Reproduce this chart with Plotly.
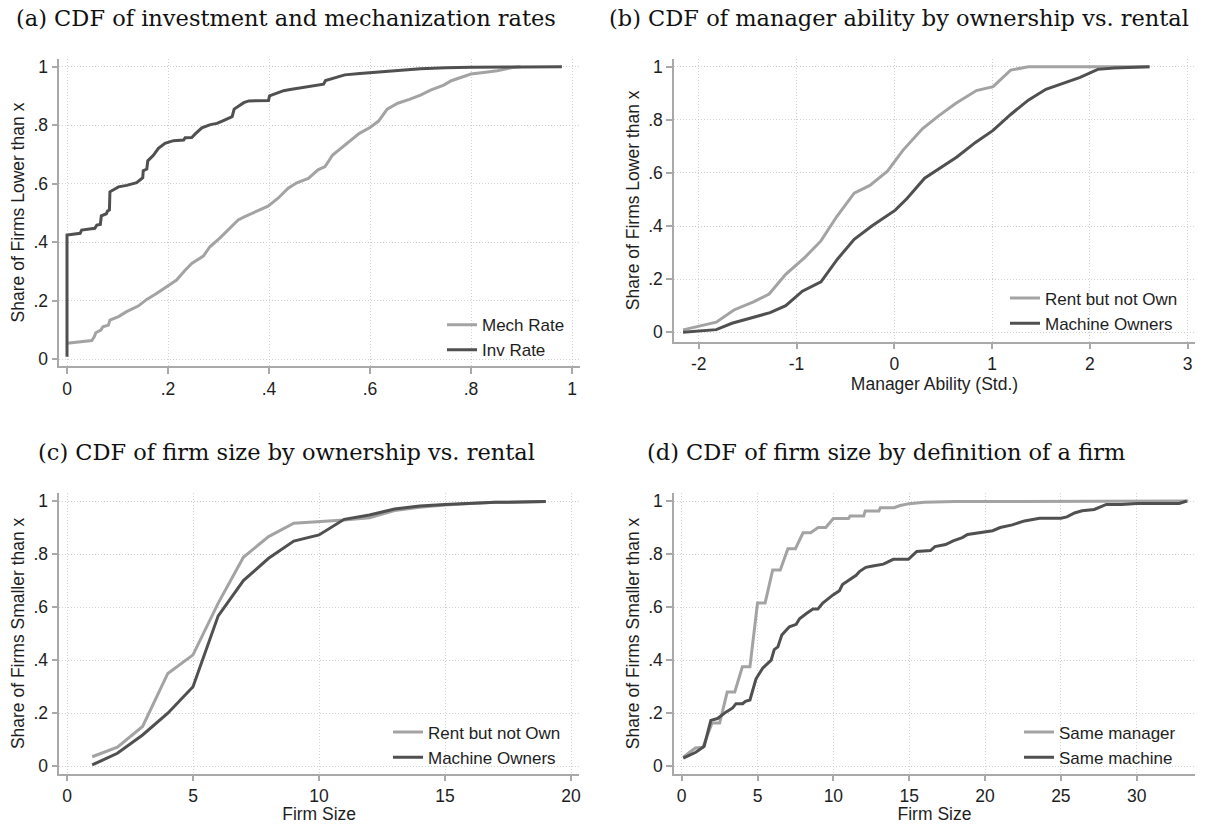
import plotly.graph_objects as go

W, H = 1210, 824

# ---------------- data ----------------
# (a) CDF of investment and mechanization rates
inv_rate_x = [0.0, 0.0, 0.026, 0.029, 0.055, 0.059, 0.066, 0.068, 0.078, 0.080, 0.084, 0.085,
              0.102, 0.118, 0.138, 0.146, 0.150, 0.151, 0.158, 0.160, 0.171, 0.181, 0.194,
              0.211, 0.231, 0.234, 0.247, 0.254, 0.267, 0.284, 0.297, 0.313, 0.327, 0.331,
              0.340, 0.350, 0.360, 0.399, 0.401, 0.416, 0.429, 0.442, 0.462, 0.482, 0.508,
              0.512, 0.530, 0.550, 0.580, 0.600, 0.650, 0.700, 0.750, 0.800, 0.900, 0.980]
inv_rate_y = [0.008, 0.424, 0.430, 0.441, 0.447, 0.458, 0.460, 0.490, 0.497, 0.506, 0.510, 0.572,
              0.589, 0.594, 0.603, 0.615, 0.620, 0.644, 0.650, 0.678, 0.697, 0.721, 0.738,
              0.747, 0.749, 0.757, 0.758, 0.770, 0.791, 0.802, 0.806, 0.818, 0.829, 0.855,
              0.866, 0.877, 0.883, 0.884, 0.900, 0.911, 0.918, 0.922, 0.928, 0.934, 0.940,
              0.953, 0.963, 0.972, 0.977, 0.980, 0.988, 0.993, 0.996, 0.998, 0.999, 1.000]
mech_rate_x = [0.0, 0.049, 0.054, 0.057, 0.067, 0.071, 0.082, 0.085, 0.102, 0.118, 0.141, 0.158,
               0.178, 0.200, 0.217, 0.233, 0.247, 0.270, 0.283, 0.302, 0.322, 0.339, 0.352,
               0.375, 0.398, 0.418, 0.438, 0.455, 0.478, 0.497, 0.511, 0.526, 0.549, 0.564,
               0.579, 0.600, 0.617, 0.634, 0.655, 0.678, 0.700, 0.720, 0.746, 0.761, 0.780,
               0.800, 0.829, 0.852, 0.882, 0.898]
mech_rate_y = [0.054, 0.063, 0.076, 0.090, 0.099, 0.110, 0.116, 0.133, 0.145, 0.162, 0.181, 0.204,
               0.225, 0.250, 0.270, 0.302, 0.327, 0.352, 0.384, 0.413, 0.447, 0.476, 0.487,
               0.504, 0.523, 0.550, 0.584, 0.603, 0.618, 0.647, 0.658, 0.698, 0.729, 0.749,
               0.772, 0.792, 0.814, 0.855, 0.875, 0.888, 0.903, 0.920, 0.937, 0.952, 0.962,
               0.975, 0.981, 0.986, 0.997, 1.000]

# (b) CDF of manager ability by ownership vs. rental
ability_rent_x = [-2.16, -1.82, -1.64, -1.44, -1.28, -1.11, -0.92, -0.75, -0.59, -0.41, -0.25,
                  -0.07, 0.09, 0.29, 0.45, 0.63, 0.84, 1.01, 1.19, 1.37, 2.0, 2.61]
ability_rent_y = [0.009, 0.038, 0.084, 0.115, 0.144, 0.218, 0.280, 0.344, 0.435, 0.524, 0.553,
                  0.607, 0.686, 0.767, 0.814, 0.862, 0.910, 0.925, 0.987, 1.000, 1.000, 1.000]
ability_own_x = [-2.16, -1.82, -1.66, -1.44, -1.27, -1.11, -0.94, -0.75, -0.58, -0.41, -0.23,
                 0.01, 0.13, 0.31, 0.47, 0.64, 0.83, 1.01, 1.19, 1.37, 1.55, 1.73, 1.90, 2.08,
                 2.25, 2.61]
ability_own_y = [0.000, 0.010, 0.034, 0.055, 0.074, 0.100, 0.155, 0.190, 0.276, 0.350, 0.400,
                 0.460, 0.504, 0.580, 0.620, 0.660, 0.715, 0.760, 0.820, 0.874, 0.915, 0.937,
                 0.960, 0.990, 0.995, 1.000]

# (c) CDF of firm size by ownership vs. rental
firm_size = list(range(1, 20))
size_rent_y = [0.036, 0.072, 0.150, 0.350, 0.420, 0.615, 0.788, 0.866, 0.916, 0.922, 0.928,
               0.937, 0.964, 0.976, 0.985, 0.991, 0.995, 0.996, 0.998]
size_own_y = [0.005, 0.049, 0.118, 0.200, 0.300, 0.567, 0.700, 0.784, 0.849, 0.872, 0.931,
              0.947, 0.970, 0.981, 0.987, 0.992, 0.995, 0.996, 0.998]

# (d) CDF of firm size by definition of a firm
same_manager_x = [0.1, 0.9, 1.4, 2.0, 2.5, 3.0, 3.5, 4.0, 4.5, 5.0, 5.5, 6.0, 6.5, 7.0, 7.5,
                  8.0, 8.5, 9.0, 9.5, 10.0, 11.0, 11.1, 12.0, 12.1, 13.0, 13.1, 14.0, 14.4,
                  15.0, 16.0, 18.0, 25.0, 33.4]
same_manager_y = [0.034, 0.069, 0.072, 0.163, 0.163, 0.280, 0.280, 0.375, 0.375, 0.616, 0.616,
                  0.740, 0.740, 0.820, 0.820, 0.880, 0.880, 0.900, 0.900, 0.934, 0.934, 0.943,
                  0.943, 0.962, 0.962, 0.975, 0.975, 0.983, 0.990, 0.995, 0.998, 1.000, 1.000]
same_machine_x = [0.1, 0.93, 1.48, 1.92, 2.36, 2.91, 3.36, 3.58, 4.02, 4.2, 4.5, 4.9, 5.34, 5.9,
                  6.1, 6.34, 6.6, 7.1, 7.55, 7.77, 8.2, 8.65, 8.98, 9.3, 9.98, 10.4, 10.6, 10.97,
                  11.5, 11.74, 12.14, 12.6, 13.3, 13.95, 14.95, 15.5, 16.4, 16.7, 17.4, 17.9,
                  18.5, 18.85, 19.5, 20.5, 21.0, 21.8, 22.6, 23.6, 25.0, 25.4, 25.9, 26.4, 27.2,
                  28.0, 29.0, 30.0, 32.8, 33.3]
same_machine_y = [0.031, 0.053, 0.075, 0.173, 0.180, 0.204, 0.220, 0.236, 0.236, 0.245, 0.250,
                  0.330, 0.370, 0.400, 0.440, 0.450, 0.495, 0.526, 0.535, 0.556, 0.575, 0.593,
                  0.593, 0.615, 0.646, 0.662, 0.685, 0.700, 0.720, 0.735, 0.750, 0.755, 0.762,
                  0.780, 0.780, 0.810, 0.813, 0.828, 0.836, 0.850, 0.862, 0.874, 0.880, 0.888,
                  0.900, 0.910, 0.925, 0.935, 0.935, 0.940, 0.955, 0.963, 0.968, 0.987, 0.987,
                  0.991, 0.991, 1.000]

# tick labels
share_ticks = [0, 0.2, 0.4, 0.6, 0.8, 1]
share_labels = ["0", ".2", ".4", ".6", ".8", "1"]
ability_ticks = [-2, -1, 0, 1, 2, 3]
ability_labels = ["-2", "-1", "0", "1", "2", "3"]
size_c_ticks = [0, 5, 10, 15, 20]
size_c_labels = ["0", "5", "10", "15", "20"]
size_d_ticks = [0, 5, 10, 15, 20, 25, 30]
size_d_labels = ["0", "5", "10", "15", "20", "25", "30"]

panel_titles = ["(a) CDF of investment and mechanization rates",
                "(b) CDF of manager ability by ownership vs. rental",
                "(c) CDF of firm size by ownership vs. rental",
                "(d) CDF of firm size by definition of a firm"]

# ---------------- style ----------------
DARK = "#505050"
LIGHT = "#a3a3a3"
AXIS = "#a9a9a9"
GRID = "#d0d0d0"
TXT = "#1e1e1e"
SANS = "Liberation Sans, Arial, sans-serif"
SERIF = "DejaVu Serif, serif"
FS = 17.5


def rng(p0, p1, va, pa, vb, pb):
    s = (vb - va) / (pb - pa)
    return [va + (p0 - pa) * s, va + (p1 - pa) * s]


# pixel geometry of each panel: x-left, x-right, y-top, y-bottom, calibration
panels = {
    "a": dict(x=(59.3, 580), y=(59, 366), xc=(0, 67, 1, 572), yc=(1, 66.7, 0, 359)),
    "b": dict(x=(674, 1195), y=(59, 341.7), xc=(-2, 698.7, 3, 1187.7), yc=(1, 66.7, 0, 332.3)),
    "c": dict(x=(59.3, 579), y=(493.3, 773.5), xc=(0, 67, 20, 571), yc=(1, 501, 0, 766.3)),
    "d": dict(x=(674, 1195), y=(493.3, 773.5), xc=(0, 681.7, 30, 1136.7), yc=(1, 501, 0, 766.3)),
}

fig = go.Figure()

line_w = 3
fig.add_trace(go.Scatter(x=mech_rate_x, y=mech_rate_y, mode="lines", name="Mech Rate",
                         line=dict(color=LIGHT, width=line_w), xaxis="x", yaxis="y", legend="legend"))
fig.add_trace(go.Scatter(x=inv_rate_x, y=inv_rate_y, mode="lines", name="Inv Rate",
                         line=dict(color=DARK, width=line_w), xaxis="x", yaxis="y", legend="legend"))
fig.add_trace(go.Scatter(x=ability_rent_x, y=ability_rent_y, mode="lines", name="Rent but not Own",
                         line=dict(color=LIGHT, width=line_w), xaxis="x2", yaxis="y2", legend="legend2"))
fig.add_trace(go.Scatter(x=ability_own_x, y=ability_own_y, mode="lines", name="Machine Owners",
                         line=dict(color=DARK, width=line_w), xaxis="x2", yaxis="y2", legend="legend2"))
fig.add_trace(go.Scatter(x=firm_size, y=size_rent_y, mode="lines", name="Rent but not Own",
                         line=dict(color=LIGHT, width=line_w), xaxis="x3", yaxis="y3", legend="legend3"))
fig.add_trace(go.Scatter(x=firm_size, y=size_own_y, mode="lines", name="Machine Owners",
                         line=dict(color=DARK, width=line_w), xaxis="x3", yaxis="y3", legend="legend3"))
fig.add_trace(go.Scatter(x=same_manager_x, y=same_manager_y, mode="lines", name="Same manager",
                         line=dict(color=LIGHT, width=line_w), xaxis="x4", yaxis="y4", legend="legend4"))
fig.add_trace(go.Scatter(x=same_machine_x, y=same_machine_y, mode="lines", name="Same machine",
                         line=dict(color=DARK, width=line_w), xaxis="x4", yaxis="y4", legend="legend4"))


def axis_common():
    return dict(showline=True, linecolor=AXIS, linewidth=1.5, ticks="outside", ticklen=6,
                tickwidth=1.5, tickcolor=AXIS, showgrid=True, gridcolor=GRID, griddash="1px,2px",
                gridwidth=1, zeroline=False, tickfont=dict(family=SANS, size=FS, color=TXT),
                fixedrange=True, automargin=False)


xticks = {"a": (share_ticks, share_labels), "b": (ability_ticks, ability_labels),
          "c": (size_c_ticks, size_c_labels), "d": (size_d_ticks, size_d_labels)}
xtitles = {"a": "", "b": "Manager Ability (Std.)", "c": "Firm Size", "d": "Firm Size"}
ytitles = {"a": "Share of Firms Lower than x", "b": "Share of Firms Lower than x",
           "c": "Share of Firms Smaller than x", "d": "Share of Firms Smaller than x"}

layout = dict(width=W, height=H, margin=dict(l=0, r=0, t=0, b=0, autoexpand=False),
              paper_bgcolor="white", plot_bgcolor="white", showlegend=True,
              font=dict(family=SANS, size=FS, color=TXT))

legend_pos = {"a": (442, 337.7), "b": (1005, 311), "c": (388, 745), "d": (1019, 745)}

for i, key in enumerate(["a", "b", "c", "d"]):
    p = panels[key]
    sfx = "" if i == 0 else str(i + 1)
    xa = axis_common()
    xa.update(domain=[p["x"][0] / W, p["x"][1] / W],
              range=rng(p["x"][0], p["x"][1], *p["xc"]),
              tickvals=xticks[key][0], ticktext=xticks[key][1],
              anchor="y" + sfx)
    if xtitles[key]:
        xa["title"] = dict(text=xtitles[key], font=dict(family=SANS, size=FS, color=TXT), standoff=0)
    ya = axis_common()
    ya.update(domain=[1 - p["y"][1] / H, 1 - p["y"][0] / H],
              range=rng(p["y"][1], p["y"][0], *p["yc"]),
              tickvals=share_ticks, ticktext=share_labels, anchor="x" + sfx,
              title=dict(text=ytitles[key], font=dict(family=SANS, size=FS, color=TXT), standoff=4))
    layout["xaxis" + sfx] = xa
    layout["yaxis" + sfx] = ya
    lx, ly = legend_pos[key]
    layout["legend" + sfx] = dict(x=lx / W, y=1 - ly / H, xanchor="left", yanchor="middle",
                                  bgcolor="rgba(0,0,0,0)", borderwidth=0,
                                  font=dict(family=SANS, size=17, color=TXT))

title_pos = [(285.5, 18), (899, 18), (286.5, 452), (886, 452)]
layout["annotations"] = [
    dict(text=t, x=cx / W, y=1 - cy / H, xref="paper", yref="paper", showarrow=False,
         xanchor="center", yanchor="middle", font=dict(family=SERIF, size=22.5, color="#111111"))
    for t, (cx, cy) in zip(panel_titles, title_pos)
]

fig.update_layout(**layout)
fig.write_html("out.html", config={"displayModeBar": False},
               post_script="document.body.style.margin='0';document.body.style.overflow='hidden';")
